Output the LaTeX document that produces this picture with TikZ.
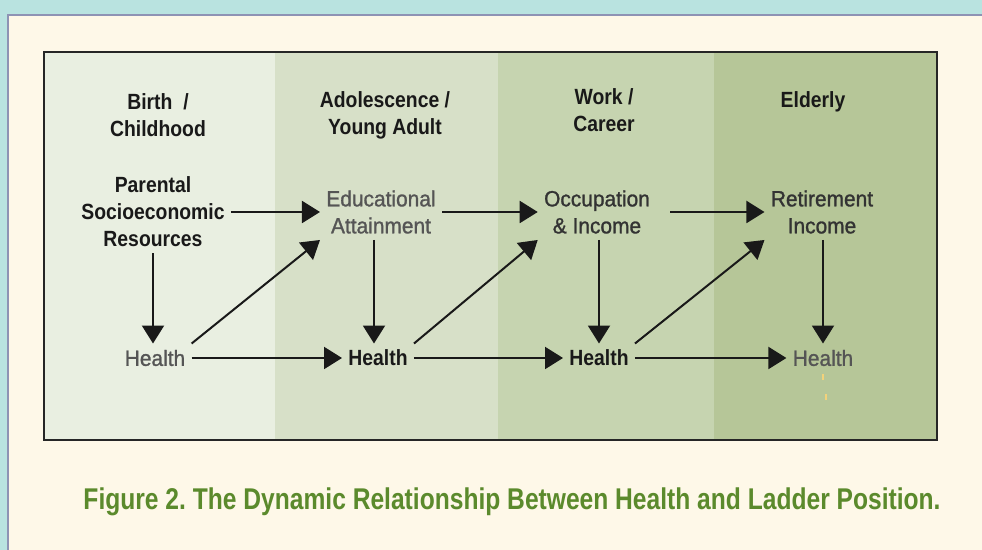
\documentclass[tikz,border=0pt]{standalone}
\usepackage{fontspec}
\setmainfont{Liberation Sans}
\newfontfamily\bodyfont[FakeStretch=0.88]{Liberation Sans}
\newfontfamily\medfont[FakeStretch=0.95,FakeBold=1.2]{Liberation Sans}
\newfontfamily\capfont[FakeStretch=0.82]{Liberation Sans}
\usetikzlibrary{arrows.meta}
\definecolor{frame}{HTML}{B9E3E0}
\definecolor{cream}{HTML}{FEF8E8}
\definecolor{edge}{HTML}{8E93B4}
\definecolor{bandA}{HTML}{E9EFE1}
\definecolor{bandB}{HTML}{D7E0C8}
\definecolor{bandC}{HTML}{C6D4B0}
\definecolor{bandD}{HTML}{B6C698}
\definecolor{capgreen}{HTML}{5B8A2C}
\definecolor{txtgrey}{HTML}{555555}
\definecolor{tick}{HTML}{F3D27A}
\newcommand{\figtext}{\bodyfont\fontsize{11}{13.5}\selectfont}
\newcommand{\medtext}{\medfont\fontsize{11}{13.5}\selectfont}

\begin{document}
\begin{tikzpicture}[x=0.5pt,y=-0.5pt,
  lbl/.style={font=\medtext, align=center, inner sep=3pt},
  head/.style={font=\figtext\bfseries, align=center, inner sep=3pt, text=black!90},
  soft/.style={lbl, text=txtgrey},
  arr/.style={-{Triangle[length=9pt,width=11pt]}, line width=1pt, black!90}]
  % background
  \useasboundingbox (0,0) rectangle (982,550);
  \fill[frame] (0,0) rectangle (982,550);
  \filldraw[fill=cream, draw=edge, line width=0.6pt] (8,15) rectangle (990,560);
  \fill[bandA] (44,52) rectangle (275,440);
  \fill[bandB] (275,52) rectangle (498,440);
  \fill[bandC] (498,52) rectangle (714,440);
  \fill[bandD] (714,52) rectangle (937,440);
  \draw[black!85, line width=1pt] (44,52) rectangle (937,440);
  % stage headers
  \node[head] (birth) at (158,115) {Birth \ /\\Childhood};
  \node[head] (adol) at (385,115) {Adolescence /\\Young Adult};
  \node[head] (work) at (604,110) {Work /\\Career};
  \node[head] (eld) at (813,102) {Elderly};
  % upper row
  \node[head] (par) at (153,212) {Parental\\Socioeconomic\\Resources};
  \node[soft] (edu) at (381,212) {Educational\\Attainment};
  \node[lbl, text=black!80] (occ) at (597,212) {Occupation\\\& Income};
  \node[lbl, text=black!80] (ret) at (822,212) {Retirement\\Income};
  % health row
  \node[soft] (h1) at (155,358) {Health};
  \node[head] (h2) at (378,358) {Health};
  \node[head] (h3) at (599,358) {Health};
  \node[soft] (h4) at (823,358) {Health};
  % edges
  \draw[arr] (par.east) -- (par.east -| edu.west);
  \draw[arr] (edu.east) -- (edu.east -| occ.west);
  \draw[arr, shorten <=7pt] (occ.east) -- (occ.east -| ret.west);
  \draw[arr] (h1.east) -- (h2.west);
  \draw[arr] (h2.east) -- (h3.west);
  \draw[arr] (h3.east) -- (h4.west);
  \draw[arr] (par.south) -- (par.south |- h1.north);
  \draw[arr] ([xshift=-2pt]h2 |- edu.south) -- ([xshift=-2pt]h2.north);
  \draw[arr] (h3 |- occ.south) -- (h3.north);
  \draw[arr] (h4 |- ret.south) -- (h4.north);
  \draw[arr] (h1.north east) -- (edu.south west);
  \draw[arr] (h2.north east) -- (occ.south west);
  \draw[arr] (h3.north east) -- (ret.south west);
  % ticks
  \draw[tick, line width=1pt] (823,374) -- (823,380);
  \draw[tick, line width=1pt] (826,394) -- (826,400);
  % caption
  \node[font=\capfont\bfseries\fontsize{15}{18}\selectfont, text=capgreen] (cap) at (512,502)
    {\frenchspacing Figure 2. The Dynamic Relationship Between Health and Ladder Position.};
\end{tikzpicture}
\end{document}
